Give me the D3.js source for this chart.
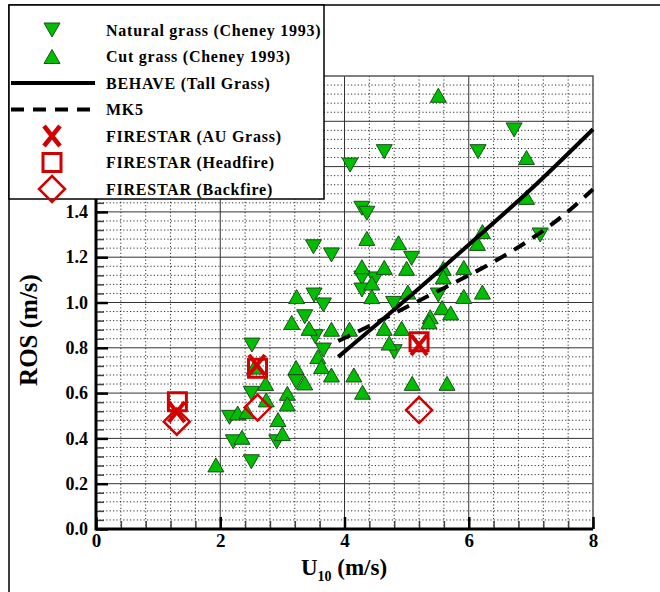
<!DOCTYPE html>
<html><head><meta charset="utf-8">
<script src="https://cdn.jsdelivr.net/npm/d3@7"></script>
<style>body{margin:0;background:#fff}svg{display:block}</style>
</head><body>
<svg id="c" width="660" height="592"></svg>
<script>
// ---------- data ----------
const naturalGrass = [ // [U10 m/s, ROS m/s]
  [4.09,1.607],[4.64,1.666],[6.15,1.666],[6.73,1.762],[4.28,1.416],[4.36,1.394],
  [3.50,1.246],[3.79,1.210],[5.08,1.195],[7.15,1.298],[4.28,1.108],[4.49,1.104],
  [4.28,1.055],[5.51,1.033],[4.79,0.996],[3.51,1.033],[3.66,0.989],[3.36,0.937],
  [3.53,0.849],[3.66,0.790],[4.80,0.783],[3.22,0.650],[2.51,0.812],[2.50,0.599],
  [2.15,0.493],[2.21,0.385],[2.91,0.385],[2.50,0.297]
];
const cutGrass = [
  [5.51,1.915],[6.93,1.640],[6.93,1.464],[4.36,1.283],[4.87,1.264],[6.22,1.313],
  [6.14,1.261],[4.28,1.158],[4.64,1.155],[4.44,1.086],[4.44,1.026],[5.00,1.151],
  [5.59,1.151],[5.92,1.155],[5.59,1.113],[5.92,1.027],[6.22,1.046],[5.02,1.046],
  [5.57,0.977],[5.71,0.954],[5.38,0.937],[5.36,0.915],[4.64,0.886],[4.92,0.886],
  [4.72,0.821],[5.09,0.643],[5.65,0.643],[3.23,1.026],[3.15,0.912],[3.43,0.886],
  [3.79,0.882],[4.08,0.882],[3.57,0.761],[3.63,0.717],[3.22,0.713],[3.36,0.645],
  [3.79,0.680],[4.15,0.680],[4.29,0.604],[2.55,0.715],[2.73,0.642],[2.74,0.570],
  [3.08,0.599],[3.08,0.552],[2.28,0.512],[2.43,0.518],[2.93,0.483],[3.00,0.421],
  [2.35,0.405],[1.93,0.283]
];
const behave = [[3.9,0.76],[5.0,1.015],[6.0,1.255],[7.0,1.50],[8.0,1.765]];
const mk5 = [[3.9,0.83],[4.5,0.91],[5.0,0.98],[5.5,1.05],[6.0,1.12],[6.5,1.195],[7.0,1.28],[7.5,1.38],[8.0,1.50]];
const firestarAU = [[1.30,0.517],[2.59,0.724],[5.20,0.812]];
const firestarHead = [[1.31,0.562],[2.60,0.710],[5.20,0.827]];
const firestarBack = [[1.30,0.474],[2.60,0.536],[5.20,0.525]];
const xTicks = [0,2,4,6,8];
const yTicks = [0,0.2,0.4,0.6,0.8,1.0,1.2,1.4];
const legendLabels = ["Natural grass (Cheney 1993)","Cut grass (Cheney 1993)","BEHAVE (Tall Grass)","MK5",
  "FIRESTAR (AU Grass)","FIRESTAR (Headfire)","FIRESTAR (Backfire)"];

// ---------- setup ----------
const svg = d3.select("#c");
const L=96,R=593,T=76,B=529;
const x = d3.scaleLinear().domain([0,8]).range([L,R]);
const y = d3.scaleLinear().domain([0,2]).range([B,T]);
const FONT = "'Liberation Serif','Times New Roman',serif";
const GREEN="#00bf00", GSTROKE="#1d4d1d", RED="#d20000";

// outer frame
svg.append("path").attr("d","M9,592 L9,5 L660,5").attr("fill","none").attr("stroke","#000").attr("stroke-width",1.5);

// minor grid
const g = svg.append("g");
g.selectAll(".hm").data(d3.range(0,2.0001,0.04).filter(v=>Math.abs(v/0.2-Math.round(v/0.2))>1e-6))
 .join("line").attr("x1",L).attr("x2",R).attr("y1",d=>y(d)).attr("y2",d=>y(d))
 .attr("stroke","#000").attr("stroke-width",1).attr("stroke-dasharray","1.2,2.2").attr("opacity",0.8);
g.selectAll(".vm").data(d3.range(0,8.0001,0.4).filter(v=>Math.abs(v/2-Math.round(v/2))>1e-6))
 .join("line").attr("y1",T).attr("y2",B).attr("x1",d=>x(d)).attr("x2",d=>x(d))
 .attr("stroke","#000").attr("stroke-width",1).attr("stroke-dasharray","1.2,2.2").attr("opacity",0.8);
// major grid
g.selectAll(".hM").data(d3.range(0.2,1.9999,0.2)).join("line")
 .attr("x1",L).attr("x2",R).attr("y1",d=>y(d)).attr("y2",d=>y(d)).attr("stroke","#333").attr("stroke-width",1);
g.selectAll(".vM").data([2,4,6]).join("line")
 .attr("y1",T).attr("y2",B).attr("x1",d=>x(d)).attr("x2",d=>x(d)).attr("stroke","#333").attr("stroke-width",1);
// top/right border
svg.append("path").attr("d",`M${L},${T} L${R},${T} L${R},${B}`).attr("fill","none").attr("stroke","#555").attr("stroke-width",1.5);

// axes
function styleAxis(sel, w){ sel.select(".domain").remove(); sel.selectAll(".tick line").attr("stroke","#000").attr("stroke-width",w); }
const yMinor = svg.append("g").attr("transform",`translate(${L},0)`)
 .call(d3.axisLeft(y).tickValues(d3.range(0,2.0001,0.04)).tickSize(-8).tickFormat(""));
styleAxis(yMinor,1.5); yMinor.selectAll(".tick line").attr("stroke","#444");
const yMajor = svg.append("g").attr("transform",`translate(${L},0)`)
 .call(d3.axisLeft(y).tickValues(d3.range(0,2.0001,0.2)).tickSize(-12).tickFormat(""));
styleAxis(yMajor,2.5);
const yLab = svg.append("g").attr("transform",`translate(${L},0)`)
 .call(d3.axisLeft(y).tickValues(yTicks).tickSize(0).tickPadding(8).tickFormat(d3.format(".1f")));
yLab.select(".domain").remove();
yLab.selectAll("text").attr("font-family",FONT).attr("font-weight","bold").attr("font-size",18).attr("fill","#000");

const xMinor = svg.append("g").attr("transform",`translate(0,${B})`)
 .call(d3.axisBottom(x).tickValues(d3.range(0,8.0001,0.4)).tickSize(-8).tickFormat(""));
styleAxis(xMinor,1.5); xMinor.selectAll(".tick line").attr("stroke","#444");
const xMajor = svg.append("g").attr("transform",`translate(0,${B})`)
 .call(d3.axisBottom(x).tickValues(xTicks).tickSize(-12).tickFormat(""));
styleAxis(xMajor,2.5);
const xLab = svg.append("g").attr("transform",`translate(0,${B})`)
 .call(d3.axisBottom(x).tickValues(xTicks).tickSize(0).tickPadding(5).tickFormat(d3.format("d")));
xLab.select(".domain").remove();
xLab.selectAll("text").attr("font-family",FONT).attr("font-weight","bold").attr("font-size",19).attr("fill","#000");

// axis lines (thick left/bottom)
svg.append("path").attr("d",`M${L},${T} L${L},${B} L${R},${B}`).attr("fill","none").attr("stroke","#000").attr("stroke-width",3);

// axis titles
const xt = svg.append("text").attr("x",344).attr("y",575).attr("text-anchor","middle")
 .attr("font-family",FONT).attr("font-weight","bold").attr("font-size",23).attr("fill","#000");
xt.append("tspan").text("U");
xt.append("tspan").attr("font-size",14).attr("dy",6).text("10");
xt.append("tspan").attr("dy",-6).text(" (m/s)");
svg.append("text").attr("transform","translate(37,330) rotate(-90)").attr("text-anchor","middle")
 .attr("font-family",FONT).attr("font-weight","bold").attr("font-size",25).attr("fill","#000").text("ROS (m/s)");

// symbols
const upTri = "M0,-7 L8,7 L-8,7 Z", downTri = "M0,7 L8,-7 L-8,-7 Z";
const marks = svg.append("g");
marks.selectAll(".ng").data(naturalGrass).join("path")
 .attr("d",downTri).attr("transform",d=>`translate(${x(d[0])},${y(d[1])})`)
 .attr("fill",GREEN).attr("stroke",GSTROKE).attr("stroke-width",1);
marks.selectAll(".cg").data(cutGrass).join("path")
 .attr("d",upTri).attr("transform",d=>`translate(${x(d[0])},${y(d[1])})`)
 .attr("fill",GREEN).attr("stroke",GSTROKE).attr("stroke-width",1);

const line = d3.line().x(d=>x(d[0])).y(d=>y(d[1])).curve(d3.curveMonotoneX);
svg.append("path").attr("d",line(behave)).attr("fill","none").attr("stroke","#000").attr("stroke-width",4);
svg.append("path").attr("d",line(mk5)).attr("fill","none").attr("stroke","#000").attr("stroke-width",4)
 .attr("stroke-dasharray","13,9");

const sq = "M-9,-9 H9 V9 H-9 Z", dia = "M0,-13 L13,0 L0,13 L-13,0 Z", cross="M-8,-10 L8,10 M8,-10 L-8,10";
svg.selectAll(".hf").data(firestarHead).join("path").attr("d",sq)
 .attr("transform",d=>`translate(${x(d[0])},${y(d[1])})`).attr("fill","none").attr("stroke",RED).attr("stroke-width",3);
svg.selectAll(".bf").data(firestarBack).join("path").attr("d",dia)
 .attr("transform",d=>`translate(${x(d[0])},${y(d[1])})`).attr("fill","none").attr("stroke",RED).attr("stroke-width",2.5);
svg.selectAll(".au").data(firestarAU).join("path").attr("d",cross)
 .attr("transform",d=>`translate(${x(d[0])},${y(d[1])})`).attr("fill","none").attr("stroke",RED).attr("stroke-width",4);

// legend
const lg = svg.append("g");
lg.append("rect").attr("x",9).attr("y",5).attr("width",315).attr("height",194).attr("fill","#fff").attr("stroke","#000").attr("stroke-width",1.5);
const rowY = i => 30 + i*26.5;
const sx = 52;
lg.append("path").attr("d",downTri).attr("transform",`translate(${sx},${rowY(0)})`).attr("fill",GREEN).attr("stroke",GSTROKE);
lg.append("path").attr("d",upTri).attr("transform",`translate(${sx},${rowY(1)})`).attr("fill",GREEN).attr("stroke",GSTROKE);
lg.append("line").attr("x1",11).attr("x2",95).attr("y1",rowY(2)).attr("y2",rowY(2)).attr("stroke","#000").attr("stroke-width",4);
lg.append("line").attr("x1",11).attr("x2",95).attr("y1",rowY(3)).attr("y2",rowY(3)).attr("stroke","#000").attr("stroke-width",4).attr("stroke-dasharray","13,9");
lg.append("path").attr("d",cross).attr("transform",`translate(${sx},${rowY(4)})`).attr("fill","none").attr("stroke",RED).attr("stroke-width",4.5);
lg.append("path").attr("d",sq).attr("transform",`translate(${sx},${rowY(5)})`).attr("fill","none").attr("stroke",RED).attr("stroke-width",3);
lg.append("path").attr("d",dia).attr("transform",`translate(${sx},${rowY(6)})`).attr("fill","none").attr("stroke",RED).attr("stroke-width",2.5);
lg.selectAll(".lt").data(legendLabels).join("text")
 .attr("x",106).attr("y",(d,i)=>rowY(i)+5.5).attr("font-family",FONT).attr("font-weight","bold")
 .attr("font-size",16).attr("letter-spacing",0.75).attr("fill","#000").text(d=>d);
</script>
</body></html>
